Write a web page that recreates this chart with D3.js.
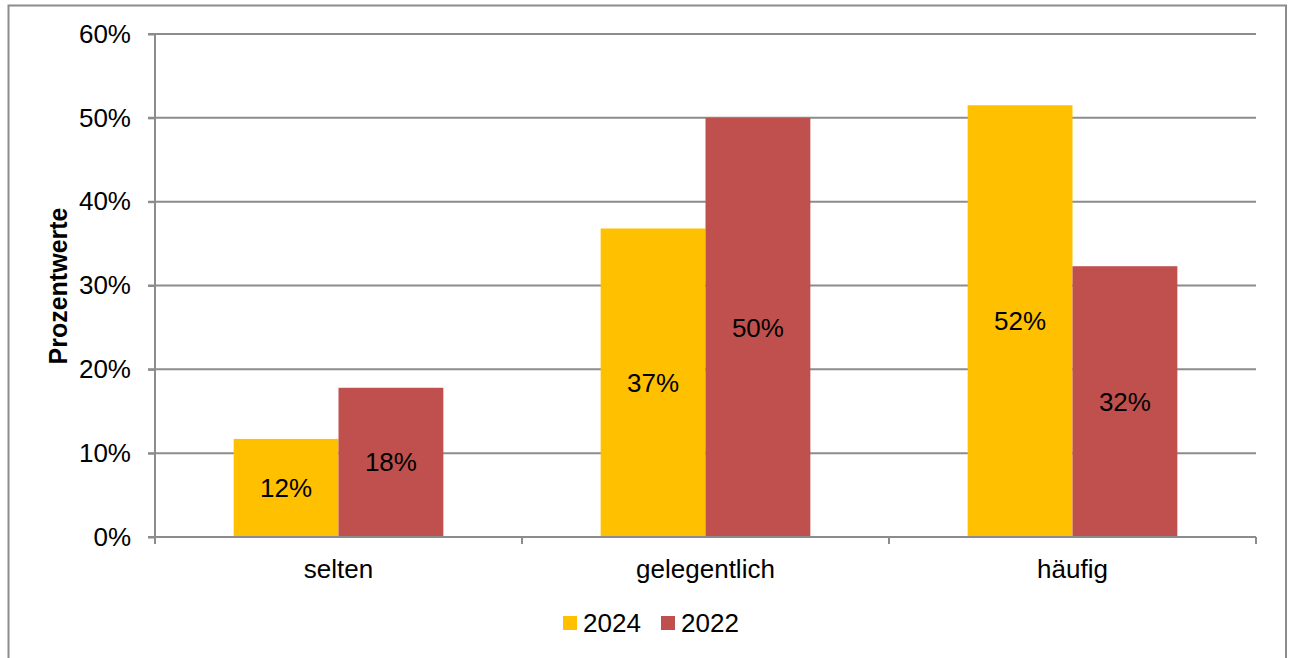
<!DOCTYPE html>
<html><head><meta charset="utf-8">
<script src="https://cdn.jsdelivr.net/npm/d3@7"></script>
<style>body{margin:0;background:#fff;}svg{display:block;font-family:"Liberation Sans",Arial,sans-serif;}</style>
</head><body><svg id="c" width="1290" height="658"></svg>
<script>
const categories = ["selten","gelegentlich","häufig"];
const seriesNames = ["2024","2022"];
const values2024 = [11.7, 36.8, 51.5];
const values2022 = [17.8, 50.0, 32.3];
const labels2024 = ["12%","37%","52%"];
const labels2022 = ["18%","50%","32%"];
const yTicks = [0,10,20,30,40,50,60];
const colors = ["#FFC000","#C0504D"];

const FS = 26;
const svg = d3.select("#c");
svg.append("rect").attr("x",8.5).attr("y",5.5).attr("width",1277.5).attr("height",660)
  .attr("fill","#fff").attr("stroke","#8c8c8c").attr("stroke-width",2);

const L=155, R=1256, T=34, B=537;
const x = d3.scaleBand().domain(categories).range([L,R]).paddingInner(0).paddingOuter(0);
const xs = d3.scaleBand().domain(seriesNames).range([0,x.bandwidth()]).paddingInner(0).paddingOuter(0.75);
const y = d3.scaleLinear().domain([0,60]).range([B,T]);

// gridlines
svg.append("g").selectAll("line").data(yTicks).join("line")
  .attr("x1",L-7).attr("x2",R).attr("y1",d=>y(d)).attr("y2",d=>y(d))
  .attr("stroke","#8c8c8c").attr("stroke-width",2);

const data = [values2024, values2022];
const labs = [labels2024, labels2022];
seriesNames.forEach((s,si)=>{
  const g = svg.append("g");
  g.selectAll("rect").data(categories).join("rect")
    .attr("x",c=>x(c)+xs(s)).attr("width",xs.bandwidth())
    .attr("y",(c,i)=>y(data[si][i])).attr("height",(c,i)=>B-y(data[si][i]))
    .attr("fill",colors[si]);
  g.selectAll("text").data(categories).join("text")
    .attr("x",c=>x(c)+xs(s)+xs.bandwidth()/2)
    .attr("y",(c,i)=>(y(data[si][i])+B)/2)
    .attr("dy","0.35em").attr("text-anchor","middle")
    .attr("font-size",FS).attr("fill","#000")
    .text((c,i)=>labs[si][i]);
});

// y axis
const yAxis = d3.axisLeft(y).tickValues(yTicks).tickFormat(d=>d+"%").tickSize(7).tickPadding(17);
const ya = svg.append("g").attr("transform",`translate(${L},0)`).call(yAxis);
ya.select(".domain").attr("stroke","#8c8c8c").attr("stroke-width",2).attr("d",`M0,${T}V${B}`);
ya.selectAll(".tick line").attr("stroke","#8c8c8c").attr("stroke-width",2);
ya.selectAll(".tick text").attr("font-size",FS).attr("fill","#000").attr("font-family","Liberation Sans, Arial, sans-serif");

// x axis
const xa = svg.append("g").attr("transform",`translate(0,${B})`);
xa.append("line").attr("x1",L).attr("x2",R).attr("y1",0).attr("y2",0).attr("stroke","#8c8c8c").attr("stroke-width",2);
const bounds = [L, ...categories.map(c=>x(c)+x.bandwidth())];
xa.selectAll("line.t").data(bounds).join("line").attr("class","t")
  .attr("x1",d=>d).attr("x2",d=>d).attr("y1",0).attr("y2",7)
  .attr("stroke","#8c8c8c").attr("stroke-width",2);
xa.selectAll("text").data(categories).join("text")
  .attr("x",c=>x(c)+x.bandwidth()/2).attr("y",41)
  .attr("text-anchor","middle").attr("font-size",FS).attr("fill","#000").text(c=>c);

// y title
svg.append("text").attr("transform","translate(67,286) rotate(-90)")
  .attr("text-anchor","middle").attr("font-size",25).attr("font-weight","bold").text("Prozentwerte");

// legend
const lg = svg.append("g");
const lx = [563, 661];
seriesNames.forEach((s,i)=>{
  lg.append("rect").attr("x",lx[i]).attr("y",616).attr("width",14).attr("height",14).attr("fill",colors[i]);
  lg.append("text").attr("x",lx[i]+20).attr("y",632).attr("font-size",FS).attr("fill","#000").text(s);
});
</script></body></html>
